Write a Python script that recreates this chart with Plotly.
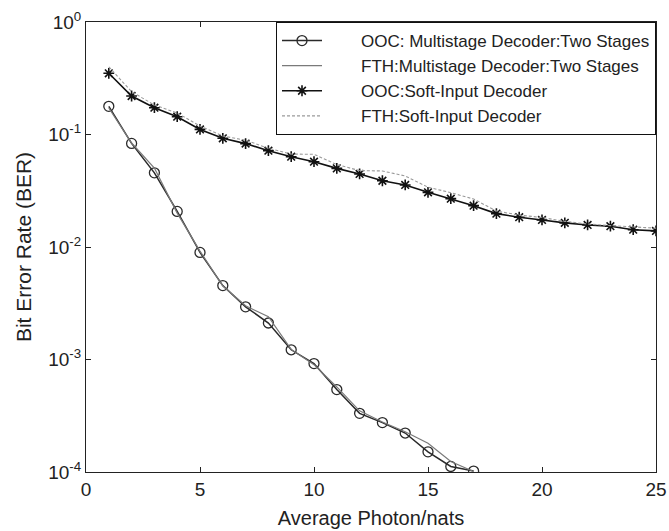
import plotly.graph_objects as go

x_multi = list(range(1, 18))
ooc_multi = [0.178, 0.0833, 0.0456, 0.0207, 0.00895, 0.00454, 0.00294, 0.00211, 0.00122,
             0.00092, 0.00054, 0.000332, 0.000275, 0.000222, 0.000151, 0.000112, 0.000102]
fth_multi = [0.172, 0.0840, 0.0503, 0.0200, 0.00920, 0.00450, 0.00300, 0.00240, 0.00123,
             0.00090, 0.00057, 0.000350, 0.000278, 0.000228, 0.000180, 0.000124, 0.000101]

x_soft = list(range(1, 26))
ooc_soft = [0.35, 0.22, 0.173, 0.144, 0.111, 0.0925, 0.083, 0.0718, 0.0635, 0.0573,
            0.050, 0.0446, 0.0388, 0.0356, 0.0306, 0.0269, 0.0233, 0.0198, 0.0184, 0.0174,
            0.0164, 0.0157, 0.0153, 0.01425, 0.0139]
fth_soft = [0.40, 0.24, 0.183, 0.155, 0.119, 0.097, 0.089, 0.0754, 0.067, 0.0667,
            0.0540, 0.0478, 0.0474, 0.0428, 0.034, 0.0304, 0.0267, 0.0209, 0.0192, 0.0183,
            0.0169, 0.0160, 0.0155, 0.0150, 0.0147]

names = ["OOC: Multistage Decoder:Two Stages", "FTH:Multistage Decoder:Two Stages",
         "OOC:Soft-Input Decoder", "FTH:Soft-Input Decoder"]

y_tickvals = [1e-4, 1e-3, 1e-2, 1e-1, 1]
y_ticktext = ["10<sup>-4</sup>", "10<sup>-3</sup>", "10<sup>-2</sup>", "10<sup>-1</sup>", "10<sup>0</sup>"]
x_tickvals = [0, 5, 10, 15, 20, 25]

pad = "\u2003\u2003"

fig = go.Figure()
fig.add_trace(go.Scatter(x=x_multi, y=ooc_multi, name=pad + names[0], mode="lines+markers",
                         line=dict(color="#2a2a2a", width=1.5),
                         marker=dict(symbol="circle-open", size=10, color="#2a2a2a",
                                     line=dict(width=1.3))))
fig.add_trace(go.Scatter(x=x_multi, y=fth_multi, name=pad + names[1], mode="lines",
                         line=dict(color="#7a7a7a", width=1.2)))
fig.add_trace(go.Scatter(x=x_soft, y=ooc_soft, name=pad + names[2], mode="lines+markers",
                         line=dict(color="#111111", width=1.6),
                         marker=dict(symbol="asterisk-open", size=9, color="#111111",
                                     line=dict(width=1.6, color="#111111"))))
fig.add_trace(go.Scatter(x=x_soft, y=fth_soft, name=pad + names[3], mode="lines",
                         line=dict(color="#9a9a9a", width=1.1, dash="3px,2px")))

axis_common = dict(showline=True, linecolor="#222222", linewidth=1, mirror="ticks",
                   ticks="inside", ticklen=5, tickcolor="#222222", showgrid=False,
                   zeroline=False, automargin=False,
                   tickfont=dict(size=19, color="#222222"))

fig.update_layout(
    width=669, height=531,
    margin=dict(l=86, r=13, t=22, b=59),
    paper_bgcolor="white", plot_bgcolor="white",
    font=dict(family="Liberation Sans, Arial, sans-serif", color="#222222"),
    xaxis=dict(range=[0, 25], tickvals=x_tickvals,
               title=dict(text="Average Photon/nats", font=dict(size=20), standoff=12),
               **axis_common),
    yaxis=dict(type="log", range=[-4, 0], tickvals=y_tickvals, ticktext=y_ticktext,
               title=dict(text="Bit Error Rate (BER)", font=dict(size=21), standoff=10),
               **axis_common),
    legend=dict(x=1, y=1, xanchor="right", yanchor="top", bgcolor="white",
                bordercolor="#111111", borderwidth=1, font=dict(size=17, color="#222222"),
                tracegroupgap=0, itemwidth=40),
    showlegend=True,
)

fig.write_html("out.html", config={"displayModeBar": False},
               post_script="document.body.style.margin='0';document.body.style.overflow='hidden';")
